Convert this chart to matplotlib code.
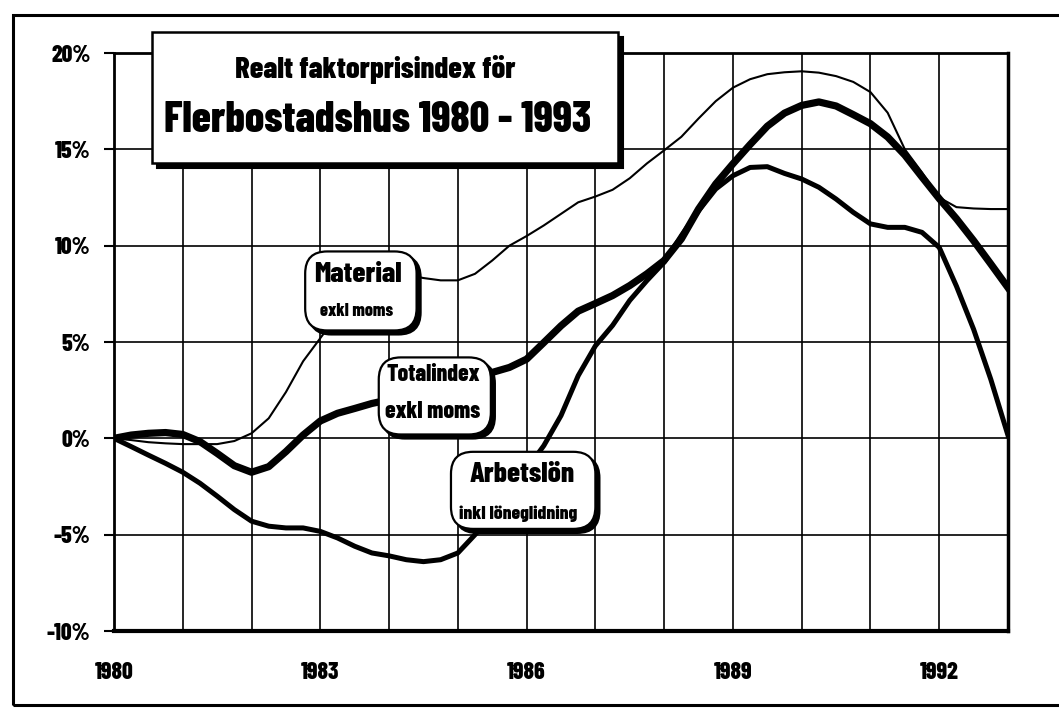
import matplotlib
matplotlib.use('Agg')
import matplotlib.pyplot as plt
from matplotlib.patches import FancyBboxPatch, Rectangle
from matplotlib.transforms import offset_copy

# values (percent), quarter-year steps
years = [1980 + i * 0.25 for i in range(53)]
material = [0, -0.09, -0.2, -0.26,
            -0.3, -0.3, -0.3, -0.14,
            0.26, 1.04, 2.4, 4.0,
            5.2, 6.4, 7.4, 8.1,
            8.5, 8.5, 8.32, 8.2,
            8.2, 8.54, 9.23, 10.0,
            10.5, 11.05, 11.65, 12.25,
            12.55, 12.9, 13.5, 14.27,
            14.95, 15.65, 16.6, 17.5,
            18.2, 18.64, 18.9, 19.0,
            19.05, 18.98, 18.8, 18.5,
            17.97, 16.9, 15.0, 13.8,
            12.5, 12.0, 11.93, 11.9,
            11.9]
totalindex = [0, 0.17, 0.26, 0.3,
              0.2, -0.17, -0.78, -1.42,
              -1.76, -1.47, -0.69, 0.17,
              0.9, 1.3, 1.55, 1.81,
              2.0, 2.25, 2.5, 2.75,
              3.0, 3.2, 3.42, 3.68,
              4.11, 4.97, 5.84, 6.6,
              7.0, 7.41, 7.93, 8.54,
              9.23, 10.35, 11.9, 13.2,
              14.25, 15.25, 16.2, 16.88,
              17.28, 17.46, 17.25, 16.8,
              16.33, 15.64, 14.7, 13.56,
              12.44, 11.4, 10.26, 9.05,
              7.82]
arbetslon = [0, -0.43, -0.87, -1.3,
             -1.76, -2.33, -3.0, -3.7,
             -4.3, -4.56, -4.65, -4.65,
             -4.83, -5.17, -5.6, -5.95,
             -6.1, -6.3, -6.4, -6.3,
             -5.95, -5.0, -4.0, -2.9,
             -1.6, -0.38, 1.18, 3.25,
             4.8, 5.86, 7.16, 8.19,
             9.14, 10.52, 11.81, 12.94,
             13.63, 14.06, 14.1, 13.75,
             13.46, 13.03, 12.42, 11.73,
             11.13, 10.95, 10.95, 10.69,
             9.91, 7.9, 5.66, 3.06,
             0.15]

y_ticks = [-10, -5, 0, 5, 10, 15, 20]
y_labels = ['-10%', '-5%', '0%', '5%', '10%', '15%', '20%']
grid_years = list(range(1980, 1994))
label_years = [1980, 1983, 1986, 1989, 1992]

title_1 = 'Realt faktorprisindex för'
title_2 = 'Flerbostadshus 1980 - 1993'

FONT = ['Barlow Condensed', 'DejaVu Sans']
plt.rcParams['font.family'] = FONT
plt.rcParams['font.weight'] = 800

fig = plt.figure(figsize=(10.59, 7.10), dpi=100)
ax = fig.add_axes([114/1059, 1 - 631/710, (1008 - 114)/1059, (631 - 53)/710])

ax.plot(years, material, color='black', lw=1.5, zorder=3, solid_joinstyle='round')
ax.plot(years, arbetslon, color='black', lw=3.6, zorder=3, solid_joinstyle='round')
ax.plot(years, totalindex, color='black', lw=5.2, zorder=3, solid_joinstyle='round')

ax.set_xlim(1980, 1993)
ax.set_ylim(-10, 20)
ax.set_yticks(y_ticks)
ax.set_yticklabels(y_labels, fontsize=17)
ax.set_xticks(grid_years)
ax.set_xticklabels([str(y) if y in label_years else '' for y in grid_years], fontsize=17)
ax.tick_params(axis='y', length=7, width=1.5, pad=10)
ax.tick_params(axis='x', length=0, pad=22)
ax.grid(True, color='black', lw=1.2, zorder=0)
ax.set_axisbelow(True)
for side, w in [('left', 2), ('top', 2), ('right', 2.5), ('bottom', 3)]:
    ax.spines[side].set_linewidth(w)


def label_box(x0, y0, x1, y1, big, bx, by, bsize, small, sx, sy, ssize):
    shadow_tr = offset_copy(ax.transData, fig=fig, x=4, y=-4, units='dots')
    for tr, fc, z in [(shadow_tr, 'black', 5), (ax.transData, 'white', 6)]:
        p = FancyBboxPatch((x0, y0), x1 - x0, y1 - y0,
                           boxstyle='round,pad=0,rounding_size=0.32',
                           mutation_aspect=3.57, fc=fc, ec='black', lw=1.6,
                           transform=tr, zorder=z)
        ax.add_patch(p)
    ax.text(bx, by, big, ha='center', va='center', fontsize=bsize, zorder=7)
    ax.text(sx, sy, small, ha='center', va='center', fontsize=ssize, zorder=7)


label_box(1982.78, 5.6, 1984.40, 9.7, 'Material', 1983.55, 8.5, 21,
          'exkl moms', 1983.52, 6.6, 13)
label_box(1983.85, 0.2, 1985.48, 4.2, 'Totalindex', 1984.64, 3.3, 17,
          'exkl moms', 1984.64, 1.35, 17)
label_box(1984.90, -4.7, 1987.0, -0.7, 'Arbetslön', 1985.93, -1.9, 21,
          'inkl löneglidning', 1985.87, -3.9, 14)

# title box (figure coordinates)
tx0, ty0, tw, th = 152/1059, 1 - 163/710, 466/1059, 131/710
shadow = Rectangle((tx0, ty0), tw, th, transform=offset_copy(fig.transFigure, fig=fig, x=5, y=-5, units='dots'),
                   fc='black', ec='black', lw=1.5, zorder=10)
box = Rectangle((tx0, ty0), tw, th, transform=fig.transFigure,
                fc='white', ec='black', lw=1.8, zorder=11)
fig.add_artist(shadow)
fig.add_artist(box)
fig.text(375/1059, 1 - 70/710, title_1, ha='center', va='center', fontsize=22, zorder=12)
fig.text(378/1059, 1 - 120/710, title_2, ha='center', va='center', fontsize=31, zorder=12)

# outer frame
frame = Rectangle((13/1059, 1 - 705/710), 1.1, (705 - 15)/710, transform=fig.transFigure,
                  fill=False, ec='black', lw=2.2, zorder=1)
fig.add_artist(frame)

fig.savefig('out.png', dpi=100, facecolor='white')
